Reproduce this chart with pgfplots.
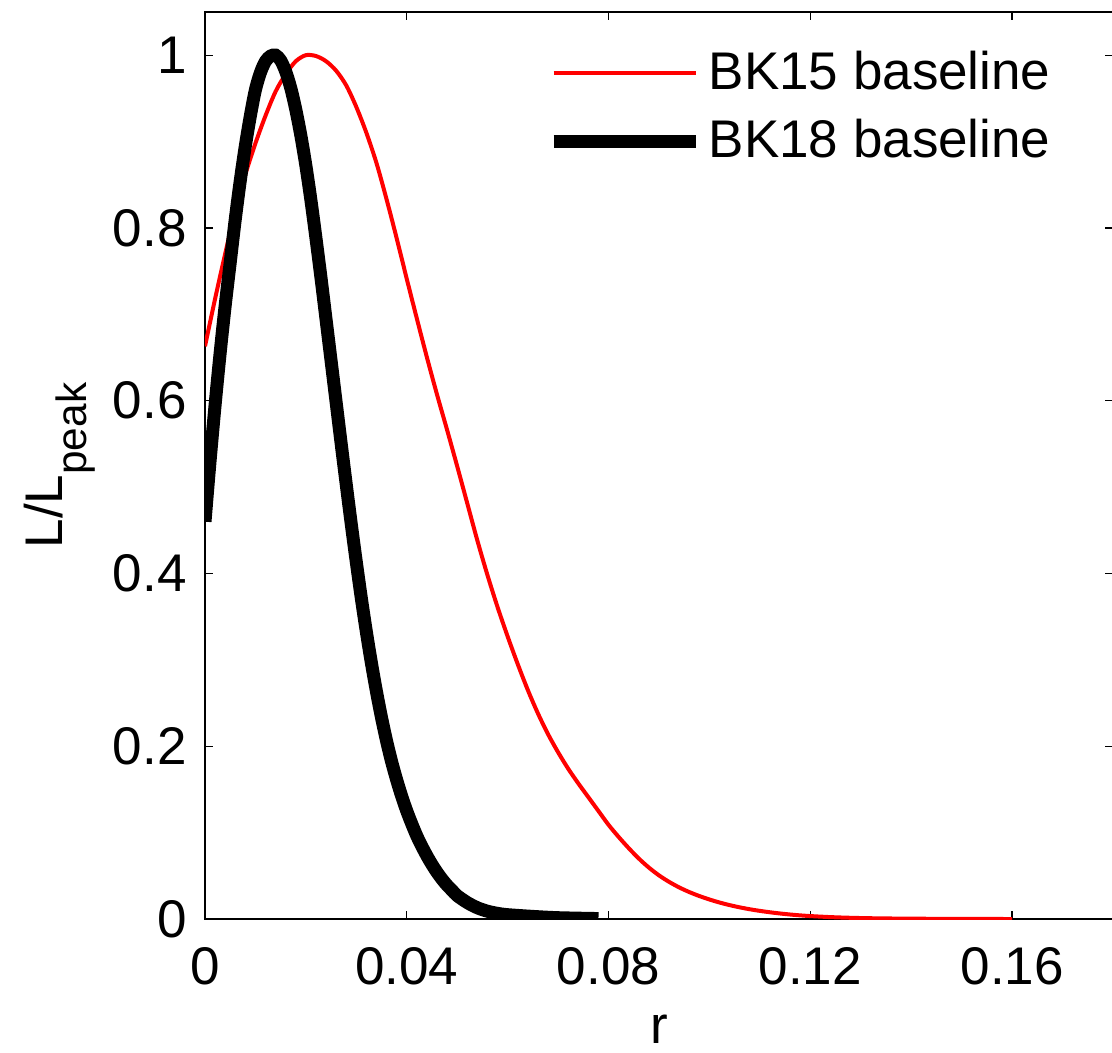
\documentclass[border=0pt]{standalone}
\usepackage{pgfplots}
\pgfplotsset{compat=1.18}
\usepackage{fontspec}
\setmainfont{Liberation Sans}
\newcommand\f{\fontsize{15.9}{19.5}\selectfont}
\begin{document}
\begin{tikzpicture}
\begin{axis}[
  name=ax,
  scale only axis,
  width=272.4pt, height=272.1pt,
  xmin=0, xmax=0.18, ymin=0, ymax=1.05,
  xtick={0,0.04,0.08,0.12,0.16},
  ytick={0,0.2,0.4,0.6,0.8,1},
  scaled ticks=false,
  /pgf/number format/fixed,
  /pgf/number format/precision=2,
  /pgf/number format/assume math mode=true,
  tick align=inside,
  major tick length=2.4pt,
  tick style={black, line width=0.4pt},
  axis line style={line width=0.8pt},
  ticklabel style={font=\f},
  xticklabel style={yshift=-5pt},
  yticklabel style={xshift=-2pt},
  xlabel={r},
  ylabel={L/L\raisebox{-7pt}{\fontsize{12.7}{13}\selectfont peak}},
  label style={font=\f},
  xlabel style={yshift=-2pt},
  ylabel style={yshift=-1.5pt},
  legend style={draw=none, fill=none, font=\f, at={(0.376,0.965)}, anchor=north west,
    inner sep=0pt, row sep=3.5pt, cells={anchor=west}},
  legend image code/.code={\draw[#1] (0pt,0pt) -- (42.6pt,0pt);},
]
\addplot[red, line width=1.2pt, smooth] coordinates {
(0,0.663) (0.002,0.718) (0.004,0.77) (0.006,0.82) (0.008,0.862) (0.010,0.898)
(0.012,0.93) (0.014,0.958) (0.016,0.978) (0.018,0.993) (0.020,1.0) (0.022,0.999)
(0.024,0.993) (0.026,0.982) (0.028,0.965) (0.030,0.94) (0.032,0.91) (0.034,0.875)
(0.036,0.833) (0.038,0.788) (0.040,0.741) (0.042,0.695) (0.044,0.650) (0.046,0.607)
(0.048,0.566) (0.050,0.524) (0.052,0.481) (0.054,0.438) (0.056,0.398) (0.058,0.361)
(0.060,0.327) (0.062,0.295) (0.064,0.265) (0.066,0.238) (0.068,0.214) (0.070,0.193)
(0.072,0.174) (0.074,0.157) (0.076,0.141) (0.078,0.125) (0.080,0.109) (0.082,0.095)
(0.084,0.082) (0.086,0.070) (0.088,0.0595) (0.090,0.0505) (0.092,0.043) (0.094,0.0366)
(0.096,0.0312) (0.098,0.0266) (0.100,0.0226) (0.102,0.0191) (0.104,0.0161) (0.106,0.0135)
(0.108,0.0113) (0.110,0.0094) (0.112,0.0078) (0.114,0.0064) (0.116,0.0052) (0.118,0.0042)
(0.120,0.0034) (0.124,0.0022) (0.128,0.0014) (0.132,0.0009) (0.136,0.0006) (0.140,0.0004)
(0.150,0.0001) (0.160,0)
};
\addlegendentry{BK15 baseline}
\addplot[black, line width=3.9pt, smooth] coordinates {
(0,0.46) (0.001,0.53) (0.002,0.595) (0.003,0.655) (0.004,0.71) (0.005,0.76)
(0.006,0.81) (0.007,0.855) (0.008,0.895) (0.009,0.93) (0.010,0.96) (0.011,0.98)
(0.012,0.993) (0.013,0.999) (0.014,1.0) (0.015,0.994) (0.016,0.981) (0.017,0.962)
(0.018,0.937) (0.019,0.907) (0.020,0.872) (0.021,0.832) (0.022,0.788) (0.023,0.742)
(0.024,0.694) (0.025,0.646) (0.026,0.598) (0.027,0.550) (0.028,0.503) (0.029,0.457)
(0.030,0.413) (0.031,0.371) (0.032,0.332) (0.033,0.296) (0.034,0.263) (0.035,0.233)
(0.036,0.206) (0.037,0.182) (0.038,0.161) (0.039,0.142) (0.040,0.125) (0.041,0.110)
(0.042,0.096) (0.043,0.084) (0.044,0.073) (0.045,0.063) (0.046,0.054) (0.047,0.046)
(0.048,0.039) (0.049,0.033) (0.050,0.027) (0.052,0.019) (0.054,0.013) (0.056,0.009)
(0.058,0.0065) (0.060,0.005) (0.065,0.003) (0.070,0.0015) (0.078,0.0005)
};
\addlegendentry{BK18 baseline}
\end{axis}
\pgfresetboundingbox
\path ([xshift=-61.5pt,yshift=-39.9pt]ax.south west) rectangle ([xshift=-0.3pt,yshift=3.6pt]ax.north east);
\end{tikzpicture}
\end{document}
